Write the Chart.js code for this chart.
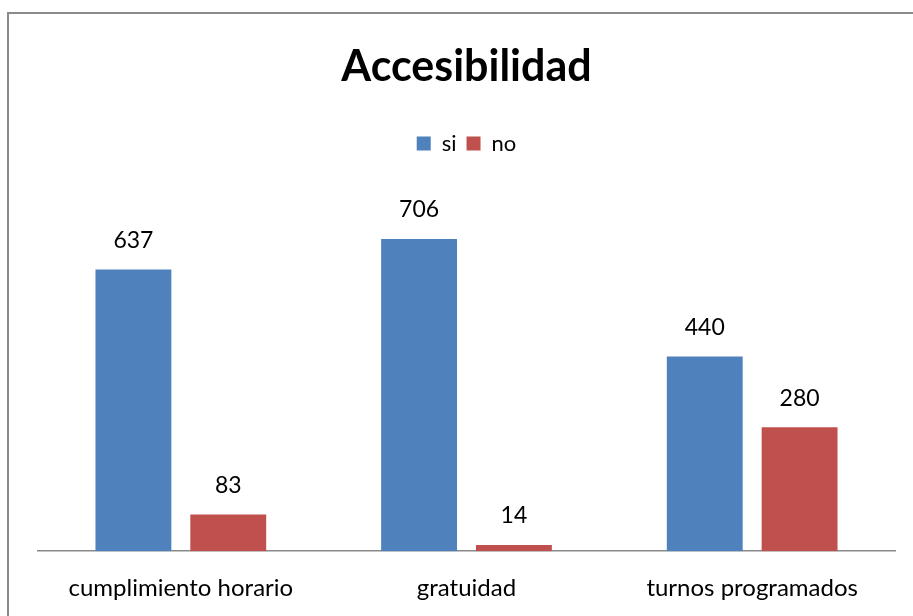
<!DOCTYPE html>
<html><head><meta charset="utf-8">
<script src="https://cdn.jsdelivr.net/npm/chart.js@4.4.1/dist/chart.umd.min.js"></script>
<style>
html,body{margin:0;padding:0;background:#fff;width:913px;height:616px;overflow:hidden;}
#frame{position:absolute;left:7px;top:12px;width:1000px;height:700px;border-left:2px solid #8a8a8a;border-top:2px solid #8a8a8a;}
canvas{position:absolute;left:0;top:0;}
</style></head>
<body>
<div id="frame"></div>
<canvas id="c" width="913" height="641"></canvas>
<script>
const categories = ["cumplimiento horario", "gratuidad", "turnos programados"];
const siValues = [637, 706, 440];
const noValues = [83, 14, 280];
const seriesNames = ["si", "no"];
const chartTitle = "Accesibilidad";

const FONT = "Lato, 'Open Sans', sans-serif";

const valueLabels = {
  id: 'valueLabels',
  afterDatasetsDraw(chart) {
    const ctx = chart.ctx;
    ctx.save();
    ctx.font = "23px " + FONT;
    ctx.fillStyle = "#000";
    ctx.textAlign = "center";
    ctx.textBaseline = "middle";
    chart.data.datasets.forEach((ds, i) => {
      const meta = chart.getDatasetMeta(i);
      meta.data.forEach((el, j) => {
        ctx.fillText(String(ds.data[j]), el.x, el.y - 29);
      });
    });
    ctx.restore();
  }
};

new Chart(document.getElementById('c'), {
  type: 'bar',
  data: {
    labels: categories,
    datasets: [
      { label: seriesNames[0], data: siValues, backgroundColor: '#4F81BD', borderWidth: 0 },
      { label: seriesNames[1], data: noValues, backgroundColor: '#C0504D', borderWidth: 0 }
    ]
  },
  options: {
    responsive: false,
    animation: false,
    layout: { padding: { left: 38, right: 18, top: 0, bottom: 15 } },
    datasets: { bar: { categoryPercentage: 0.664, barPercentage: 0.8 } },
    plugins: {
      title: {
        display: true, text: chartTitle, color: '#000',
        font: { family: FONT, size: 43, weight: 'bold' },
        padding: { top: 41, bottom: 30 }
      },
      legend: {
        display: true, position: 'top',
        labels: {
          color: '#000', boxWidth: 14, boxHeight: 14, padding: 10,
          font: { family: FONT, size: 22 }
        }
      },
      tooltip: { enabled: false }
    },
    scales: {
      y: { display: false, min: 0, max: 874 },
      x: {
        grid: { display: false, drawTicks: false },
        border: { display: true, color: '#8a8a8a', width: 1.5 },
        ticks: { color: '#000', padding: 23, font: { family: FONT, size: 24 } }
      }
    }
  },
  plugins: [valueLabels]
});
</script>
</body></html>
